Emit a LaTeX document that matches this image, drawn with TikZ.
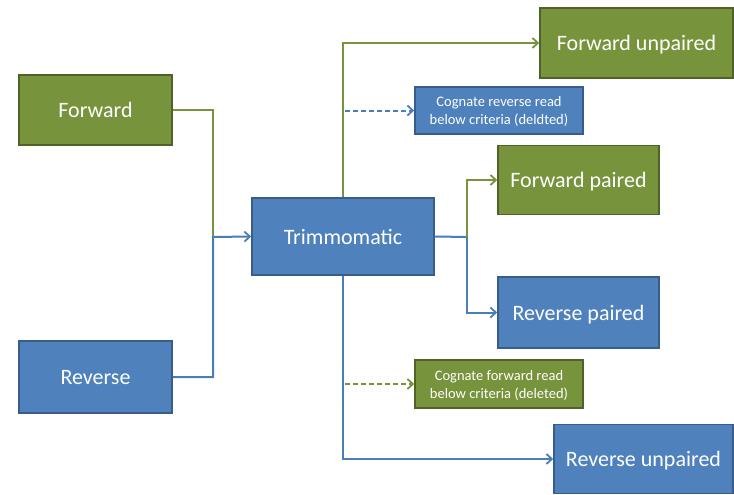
\documentclass[tikz,border=0pt]{standalone}
\usepackage{fontspec}
\setmainfont{Carlito}
\usetikzlibrary{arrows.meta}
\definecolor{gfill}{HTML}{77933C}
\definecolor{gedge}{HTML}{4F6228}
\definecolor{bfill}{HTML}{4F81BD}
\definecolor{bedge}{HTML}{385D8A}
\definecolor{gwire}{HTML}{77933C}
\definecolor{bwire}{HTML}{4A7EBB}
\tikzset{
  box/.style={draw, line width=1.5pt, inner sep=0pt, text=white, align=center,
    text depth=0pt, font=\fontsize{22}{24}\selectfont},
  gbox/.style={box, fill=gfill, draw=gedge},
  bbox/.style={box, fill=bfill, draw=bedge},
  small/.style={font=\fontsize{14.5}{18}\selectfont},
  wire/.style={line width=2pt, arrows={-{Straight Barb[length=5.5pt,width=10pt,line width=1.8pt]}}},
  plain/.style={line width=2pt},
  gline/.style={draw=gwire},
  bline/.style={draw=bwire},
  dashline/.style={dash pattern=on 5pt off 3pt},
}
\begin{document}
\begin{tikzpicture}[x=1pt,y=1pt]
\useasboundingbox (0,0) rectangle (734,-495);
% inputs
\node[gbox, minimum width=153, minimum height=70] (fwd) at (95.5,-110) {Forward};
\node[bbox, minimum width=153, minimum height=72] (rev) at (95.5,-377) {Reverse};
% trimmer
\node[bbox, minimum width=182, minimum height=77] (trim) at (343,-236.5) {Trimmomatic};
% outputs
\node[gbox, minimum width=193, minimum height=70] (fu) at (636.5,-43) {Forward unpaired};
\node[bbox, small, minimum width=168, minimum height=47] (crr) at (499,-110.5) {Cognate reverse read\\below criteria (deldted)};
\node[gbox, minimum width=161, minimum height=69] (fp) at (578.5,-180) {Forward paired};
\node[bbox, minimum width=161, minimum height=71] (rp) at (578.5,-312.5) {Reverse paired};
\node[gbox, small, minimum width=168, minimum height=48] (cfr) at (499,-384) {Cognate forward read\\below criteria (deleted)};
\node[bbox, minimum width=179, minimum height=69] (ru) at (643.5,-459) {Reverse unpaired};
% junctions
\coordinate (j) at (213,-237);
\coordinate (k) at (467,-237);
% input wiring
\draw[plain, gline] (fwd.east) -| (j);
\draw[wire, bline] (rev.east) -| (j) -- (trim.west);
% output wiring
\draw[wire, gline] (trim.north) |- (fu.west);
\draw[wire, bline, dashline] ([xshift=2pt]trim.north |- crr.west) -- (crr.west);
\draw[plain, bline] (trim.east) -- (k);
\draw[wire, gline] (k) |- (fp.west);
\draw[wire, bline] (k) |- (rp.west);
\draw[wire, bline] (trim.south) |- (ru.west);
\draw[wire, gline, dashline] ([xshift=2pt]trim.south |- cfr.west) -- (cfr.west);
\end{tikzpicture}
\end{document}
